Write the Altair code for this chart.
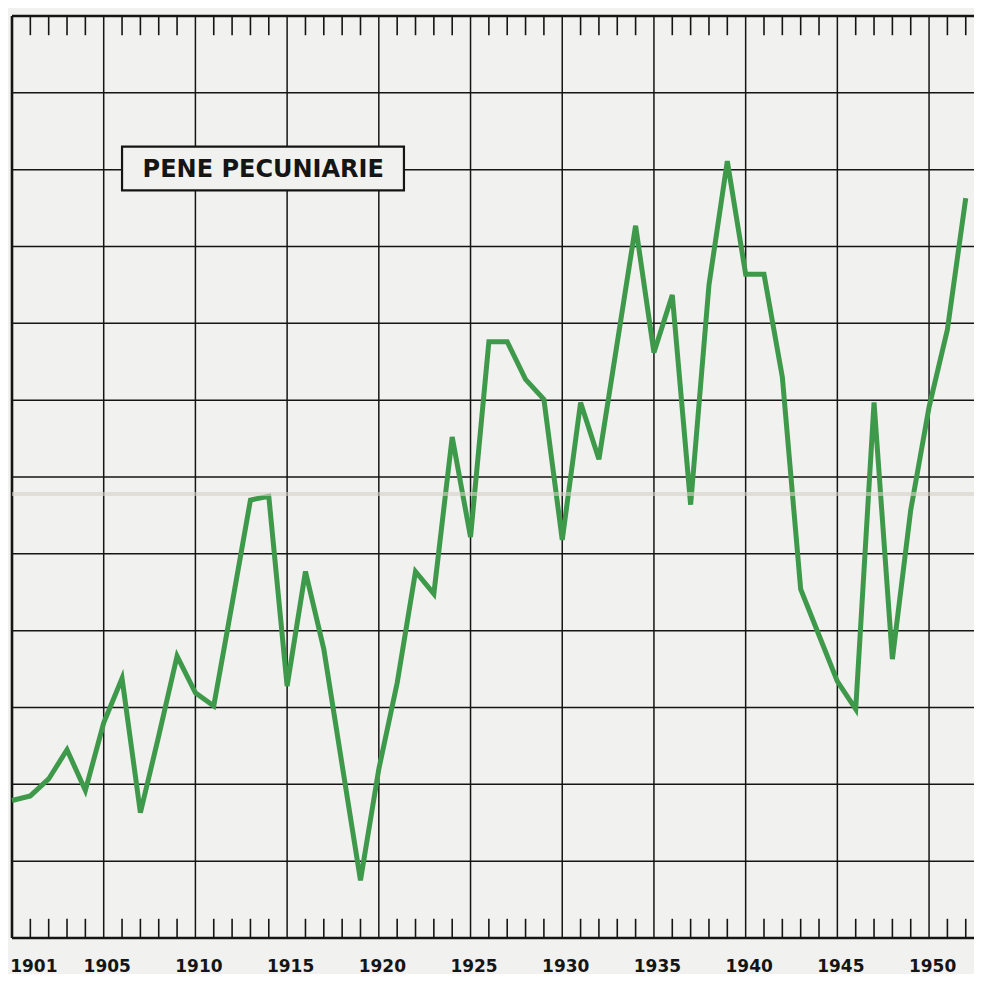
import altair as alt
import pandas as pd

# ---- data ----
years = list(range(1900, 1953))
values = [1.79, 1.85, 2.07, 2.45, 1.92, 2.80, 3.38, 1.63, 2.63, 3.67,
          3.19, 3.02, 4.35, 5.70, 5.75, 3.28, 4.77, 3.76, 2.25, 0.75,
          2.20, 3.32, 4.77, 4.48, 6.52, 5.22, 7.76, 7.76, 7.27, 7.01,
          5.18, 6.97, 6.23, 7.75, 9.27, 7.62, 8.37, 5.64, 8.50, 10.11,
          8.64, 8.64, 7.30, 4.54, 3.94, 3.34, 2.98, 6.97, 3.63, 5.57,
          6.91, 7.92, 9.63]
label_years = [1901, 1905, 1910, 1915, 1920, 1925, 1930, 1935, 1940, 1945, 1950]
grid_years = [1905, 1910, 1915, 1920, 1925, 1930, 1935, 1940, 1945, 1950]
grid_levels = [1, 2, 3, 4, 5, 6, 7, 8, 9, 10, 11]
minor_years = [y for y in range(1901, 1953) if y % 5 != 0]
title_text = "PENE PECUNIARIE"

BG = "#f1f1ef"
INK = "#151515"
GREEN = "#3e9a4a"
XMAX = 1952.45

xs = alt.Scale(domain=[1900, XMAX], nice=False, zero=False)
ys = alt.Scale(domain=[0, 12], nice=False, zero=False)
x_axis = alt.Axis(values=label_years, format="d", ticks=False, tickSize=0,
                  domain=False, grid=False, labelFont="DejaVu Sans",
                  labelFontWeight="bold", labelFontSize=17, labelColor=INK,
                  labelPadding=20, labelFlush=False, labelOverlap=False,
                  labelOffset=3, title=None)

df = pd.DataFrame({"year": years, "value": values})
vgrid = pd.DataFrame({"year": grid_years, "y0": 0, "y1": 12})
hgrid = pd.DataFrame({"level": grid_levels, "x0": 1900, "x1": XMAX})
ticks_bottom = pd.DataFrame({"year": minor_years, "y0": 0, "y1": 0.25})
ticks_top = pd.DataFrame({"year": minor_years, "y0": 12, "y1": 11.75})
frame_v = pd.DataFrame({"year": [1900], "y0": [0], "y1": [12]})
frame_h = pd.DataFrame({"level": [0, 12], "x0": 1900, "x1": XMAX})
crease = pd.DataFrame({"level": [5.78], "x0": [1900], "x1": [XMAX]})
box = pd.DataFrame({"x0": [1906.0], "x1": [1921.37], "y0": [9.73], "y1": [10.30],
                    "xc": [1913.7], "yc": [10.0], "t": [title_text]})


def X(field):
    return alt.X(field, scale=xs, axis=x_axis)


def Y(field):
    return alt.Y(field, scale=ys, axis=None)


vgrid_l = alt.Chart(vgrid).mark_rule(color=INK, strokeWidth=1.5).encode(
    x=X("year:Q"), y=Y("y0:Q"), y2="y1:Q")
hgrid_l = alt.Chart(hgrid).mark_rule(color=INK, strokeWidth=1.5).encode(
    x=X("x0:Q"), x2="x1:Q", y=Y("level:Q"))
tb_l = alt.Chart(ticks_bottom).mark_rule(color=INK, strokeWidth=1.6).encode(
    x=X("year:Q"), y=Y("y0:Q"), y2="y1:Q")
tt_l = alt.Chart(ticks_top).mark_rule(color=INK, strokeWidth=1.6).encode(
    x=X("year:Q"), y=Y("y0:Q"), y2="y1:Q")
fv_l = alt.Chart(frame_v).mark_rule(color=INK, strokeWidth=2.6).encode(
    x=X("year:Q"), y=Y("y0:Q"), y2="y1:Q")
fh_l = alt.Chart(frame_h).mark_rule(color=INK, strokeWidth=2.4).encode(
    x=X("x0:Q"), x2="x1:Q", y=Y("level:Q"))

box_l = alt.Chart(box).mark_rect(fill=BG, stroke=INK, strokeWidth=2.2).encode(
    x=X("x0:Q"), x2="x1:Q", y=Y("y0:Q"), y2="y1:Q")
text_l = alt.Chart(box).mark_text(font="DejaVu Sans", fontSize=24, fontWeight="bold",
                                  color=INK, align="center", baseline="middle").encode(
    x=X("xc:Q"), y=Y("yc:Q"), text="t:N")

line_l = alt.Chart(df).mark_line(color=GREEN, strokeWidth=5, strokeJoin="miter",
                                 strokeMiterLimit=4).encode(
    x=X("year:Q"), y=Y("value:Q"))

crease_l = alt.Chart(crease).mark_rule(color="#d6d2c4", strokeWidth=4, opacity=0.6).encode(
    x=X("x0:Q"), x2="x1:Q", y=Y("level:Q"))

chart = alt.layer(
    vgrid_l, hgrid_l, tb_l, tt_l, fv_l, fh_l, box_l, text_l, line_l, crease_l
).properties(
    width=962, height=922,
    autosize=alt.AutoSizeParams(type="none"),
    padding={"left": 4, "top": 8, "right": 0, "bottom": 36},
    background=BG,
).configure_view(stroke=None)

chart.save("out.html", embed_options={"renderer": "svg", "actions": False})
